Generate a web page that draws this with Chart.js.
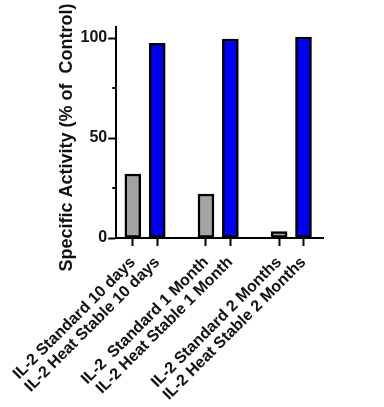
<!DOCTYPE html>
<html>
<head>
<meta charset="utf-8">
<script src="https://cdn.jsdelivr.net/npm/chart.js@4/dist/chart.umd.min.js"></script>
<style>
  html, body { margin: 0; padding: 0; background: #ffffff; }
  #wrap { width: 384px; height: 407px; position: relative; }
</style>
</head>
<body>
<div id="wrap"><canvas id="c" width="384" height="407"></canvas></div>
<script>
// ---- data ----
const categories = [
  'IL-2 Standard 10 days',
  'IL-2 Heat Stable 10 days',
  'IL-2  Standard 1 Month',
  'IL-2 Heat Stable 1 Month',
  'IL-2 Standard 2 Months',
  'IL-2 Heat Stable 2 Months'
];
const standardValues = [32, 22, 3.2];
const heatStableValues = [97.3, 99.5, 100.5];
const yMajorTicks = [0, 50, 100];
const yMinorTicks = [25, 75];
const yTitle = 'Specific Activity (% of  Control)';

// slot of each category on the x axis: pairs separated by one empty slot
const slotOf = i => i + Math.floor(i / 2);
const slots = categories.map((c, i) => slotOf(i));

const FONT = "'Liberation Sans', Arial, Helvetica, sans-serif";

const minorTicksPlugin = {
  id: 'minorTicks',
  afterDraw(chart) {
    const y = chart.scales.y;
    const ctx = chart.ctx;
    ctx.save();
    ctx.strokeStyle = '#000';
    ctx.lineWidth = 2;
    yMinorTicks.forEach(v => {
      const py = y.getPixelForValue(v);
      ctx.beginPath();
      ctx.moveTo(y.right - 4, py);
      ctx.lineTo(y.right, py);
      ctx.stroke();
    });
    ctx.restore();
  }
};

new Chart(document.getElementById('c'), {
  type: 'bar',
  data: {
    datasets: [
      {
        label: 'Standard',
        data: standardValues.map((v, g) => ({ x: slotOf(2 * g), y: v })),
        backgroundColor: '#a3a3a3',
        borderColor: '#000000',
        borderWidth: 2.5,
        borderSkipped: false,
        barThickness: 16,
        grouped: false
      },
      {
        label: 'Heat Stable',
        data: heatStableValues.map((v, g) => ({ x: slotOf(2 * g + 1), y: v })),
        backgroundColor: '#0000ee',
        borderColor: '#000000',
        borderWidth: 2.5,
        borderSkipped: false,
        barThickness: 16,
        grouped: false
      }
    ]
  },
  options: {
    responsive: false,
    animation: false,
    devicePixelRatio: 1,
    layout: { padding: { left: 51, top: 27, right: 61, bottom: 0 } },
    plugins: { legend: { display: false }, tooltip: { enabled: false } },
    scales: {
      x: {
        type: 'linear',
        offset: false,
        min: -0.68,
        max: 7.8,
        afterBuildTicks: s => { s.ticks = slots.map(v => ({ value: v })); },
        afterFit: s => { s.height = 169; },
        grid: { display: true, offset: false, drawOnChartArea: false, drawTicks: true, tickLength: 8, tickColor: '#000', tickWidth: 2 },
        border: { display: true, color: '#000', width: 2 },
        ticks: {
          autoSkip: false,
          minRotation: 45,
          maxRotation: 45,
          padding: 7,
          color: '#111',
          font: { family: FONT, size: 16, weight: 'bold' },
          callback: v => { const i = slots.indexOf(v); return i >= 0 ? categories[i] : ''; }
        }
      },
      y: {
        min: 0,
        max: 105.5,
        afterBuildTicks: s => { s.ticks = yMajorTicks.concat(yMinorTicks).sort((a, b) => a - b).map(v => ({ value: v })); },
        afterFit: s => { s.width = 60; },
        grid: {
          display: true, drawOnChartArea: false, drawTicks: true, tickLength: 8,
          tickColor: c => yMajorTicks.includes(c.tick && c.tick.value) ? '#000' : 'rgba(0,0,0,0)',
          tickWidth: 2
        },
        border: { display: true, color: '#000', width: 2 },
        ticks: {
          padding: 1,
          color: '#111',
          font: { family: FONT, size: 16, weight: 'bold' },
          callback: v => yMajorTicks.includes(v) ? String(v) : ''
        },
        title: {
          display: true,
          text: yTitle + '  ',
          color: '#111',
          padding: 0,
          font: { family: FONT, size: 18, weight: 'bold' }
        }
      }
    }
  },
  plugins: [minorTicksPlugin]
});
</script>
</body>
</html>
